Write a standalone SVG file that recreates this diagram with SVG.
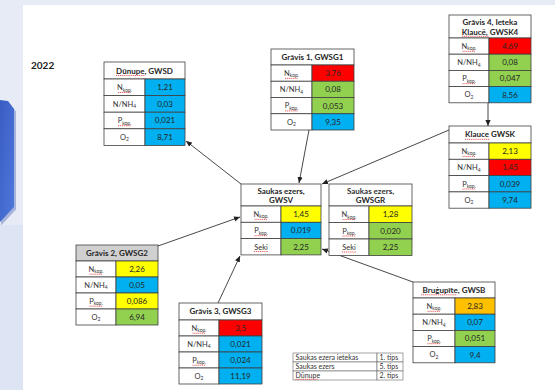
<svg xmlns="http://www.w3.org/2000/svg" width="555" height="390" viewBox="0 0 555 390">
<style>
.c{stroke:#404040;stroke-width:0.8}
.w{fill:#ffffff}.b{fill:#00b0f0}.y{fill:#ffff00}.r{fill:#ff0000}.g{fill:#92d050}.o{fill:#ffc000}.gr{fill:#d0d0d0}
text{font-family:Lato,"Liberation Sans",sans-serif;fill:#262626}
.ht{font-size:8px;font-weight:700;text-anchor:middle}
.lt{font-size:7.5px;text-anchor:middle;fill:#333}
.vt{font-size:8px;text-anchor:middle}
.sub{font-size:5px}
.sq{stroke:#e02020;stroke-width:0.7;stroke-dasharray:1.2 0.7;fill:none}
.lg{font-size:7px;fill:#333}
.conn path{stroke:#333;stroke-width:0.9;fill:none;marker-end:url(#ah)}
</style>
<defs>
<marker id="ah" viewBox="0 0 8 8" refX="8" refY="4" markerWidth="6" markerHeight="6" orient="auto" markerUnits="userSpaceOnUse"><path d="M0,0.5 L8,4 L0,7.5z" fill="#222"/></marker>
<linearGradient id="bg" x1="0" y1="0" x2="1" y2="1"><stop offset="0" stop-color="#3a5cc4"/><stop offset="1" stop-color="#4f78dc"/></linearGradient>
</defs>
<rect x="0" y="0" width="555" height="390" fill="#e6ebf5"/>
<rect x="0" y="225" width="23" height="165" fill="#dde4f3"/>
<polygon points="0,100 8,101 15,110 15,208 0,224" fill="#2f4ea8" opacity="0.35" transform="translate(1,1.5)"/>
<polygon points="0,100 8,101 14,109 14,207 0,222" fill="url(#bg)"/>
<rect x="23" y="5" width="532" height="385" fill="#ffffff"/>
<text x="31" y="69" style="font-size:10px;font-weight:700;fill:#222">2022</text>

<g class="conn">
<path d="M241,184 L186,141"/>
<path d="M309,130 L299,183"/>
<path d="M488,103 L488,126"/>
<path d="M449,130 L322,184"/>
<path d="M158,246 L240,217"/>
<path d="M218,303 L240,256"/>
<path d="M413,282 L322,249"/>
</g>

<g id="gwsd">
<rect class="c w" x="104" y="62" width="81" height="17"/>
<rect class="c w" x="104" y="79" width="41" height="16.6"/><rect class="c b" x="145" y="79" width="40" height="16.6"/>
<rect class="c w" x="104" y="95.6" width="41" height="16.6"/><rect class="c b" x="145" y="95.6" width="40" height="16.6"/>
<rect class="c w" x="104" y="112.2" width="41" height="16.6"/><rect class="c b" x="145" y="112.2" width="40" height="16.6"/>
<rect class="c w" x="104" y="128.8" width="41" height="16.6"/><rect class="c b" x="145" y="128.8" width="40" height="16.6"/>
<text class="ht" x="144.5" y="73.5">Dūnupe, GWSD</text>
<path class="sq" d="M116,75.5 H145"/>
<text class="lt" x="124.5" y="90">N<tspan class="sub" dy="1.5">kop.</tspan></text>
<path class="sq" d="M118,92.5 H131"/>
<text class="lt" x="124.5" y="106.6">N/NH<tspan class="sub" dy="1.5">4</tspan></text>
<text class="lt" x="124.5" y="123.2">P<tspan class="sub" dy="1.5">kop.</tspan></text>
<path class="sq" d="M118,125.7 H131"/>
<text class="lt" x="124.5" y="139.8">O<tspan class="sub" dy="1.5">2</tspan></text>
<text class="vt" x="165" y="90.1">1,21</text>
<text class="vt" x="165" y="106.7">0,03</text>
<text class="vt" x="165" y="123.3">0,021</text>
<text class="vt" x="165" y="139.9">8,71</text>
</g>

<g id="gwsg1">
<rect class="c w" x="271" y="49" width="83" height="16"/>
<rect class="c w" x="271" y="65" width="41" height="16.25"/><rect class="c r" x="312" y="65" width="42" height="16.25"/>
<rect class="c w" x="271" y="81.25" width="41" height="16.25"/><rect class="c g" x="312" y="81.25" width="42" height="16.25"/>
<rect class="c w" x="271" y="97.5" width="41" height="16.25"/><rect class="c g" x="312" y="97.5" width="42" height="16.25"/>
<rect class="c w" x="271" y="113.75" width="41" height="16.25"/><rect class="c b" x="312" y="113.75" width="42" height="16.25"/>
<text class="ht" x="312.5" y="59.8">Grāvis 1, GWSG1</text>
<text class="lt" x="291.5" y="75.9">N<tspan class="sub" dy="1.5">kop.</tspan></text>
<path class="sq" d="M285,78.4 H298"/>
<text class="lt" x="291.5" y="92.2">N/NH<tspan class="sub" dy="1.5">4</tspan></text>
<text class="lt" x="291.5" y="108.4">P<tspan class="sub" dy="1.5">kop.</tspan></text>
<path class="sq" d="M285,110.9 H298"/>
<text class="lt" x="291.5" y="124.7">O<tspan class="sub" dy="1.5">2</tspan></text>
<text class="vt" x="333" y="76">3,76</text>
<text class="vt" x="333" y="92.2">0,08</text>
<text class="vt" x="333" y="108.5">0,053</text>
<text class="vt" x="333" y="124.7">9,35</text>
</g>

<g id="gwsk4">
<rect class="c w" x="449" y="15" width="82" height="23"/>
<rect class="c w" x="449" y="38" width="40" height="16.2"/><rect class="c r" x="489" y="38" width="42" height="16.2"/>
<rect class="c w" x="449" y="54.2" width="40" height="16.2"/><rect class="c g" x="489" y="54.2" width="42" height="16.2"/>
<rect class="c w" x="449" y="70.4" width="40" height="16.2"/><rect class="c g" x="489" y="70.4" width="42" height="16.2"/>
<rect class="c w" x="449" y="86.6" width="40" height="16.2"/><rect class="c b" x="489" y="86.6" width="42" height="16.2"/>
<text class="ht" x="490" y="25">Grāvis 4, Ieteka</text>
<text class="ht" x="490" y="34.5">Klaucē, GWSK4</text>
<path class="sq" d="M462,36.3 H489"/>
<text class="lt" x="469" y="48.8">N<tspan class="sub" dy="1.5">kop.</tspan></text>
<path class="sq" d="M462.5,51.3 H475.5"/>
<text class="lt" x="469" y="65">N/NH<tspan class="sub" dy="1.5">4</tspan></text>
<text class="lt" x="469" y="81.2">P<tspan class="sub" dy="1.5">kop.</tspan></text>
<path class="sq" d="M462.5,83.7 H475.5"/>
<text class="lt" x="469" y="97.4">O<tspan class="sub" dy="1.5">2</tspan></text>
<text class="vt" x="510" y="48.9">4,69</text>
<text class="vt" x="510" y="65.1">0,08</text>
<text class="vt" x="510" y="81.3">0,047</text>
<text class="vt" x="510" y="97.5">8,56</text>
</g>

<g id="gwsk">
<rect class="c w" x="449" y="126" width="82" height="17"/>
<rect class="c w" x="449" y="143" width="40" height="16.3"/><rect class="c y" x="489" y="143" width="42" height="16.3"/>
<rect class="c w" x="449" y="159.3" width="40" height="16.3"/><rect class="c r" x="489" y="159.3" width="42" height="16.3"/>
<rect class="c w" x="449" y="175.6" width="40" height="16.3"/><rect class="c b" x="489" y="175.6" width="42" height="16.3"/>
<rect class="c w" x="449" y="191.9" width="40" height="16.3"/><rect class="c b" x="489" y="191.9" width="42" height="16.3"/>
<text class="ht" x="490" y="137.3">Klauce GWSK</text>
<path class="sq" d="M465,139.3 H490"/>
<text class="lt" x="469" y="153.9">N<tspan class="sub" dy="1.5">kop.</tspan></text>
<path class="sq" d="M462.5,156.4 H475.5"/>
<text class="lt" x="469" y="170.2">N/NH<tspan class="sub" dy="1.5">4</tspan></text>
<text class="lt" x="469" y="186.5">P<tspan class="sub" dy="1.5">kop.</tspan></text>
<path class="sq" d="M462.5,189 H475.5"/>
<text class="lt" x="469" y="202.8">O<tspan class="sub" dy="1.5">2</tspan></text>
<text class="vt" x="510" y="154">2,13</text>
<text class="vt" x="510" y="170.3">1,45</text>
<text class="vt" x="510" y="186.6">0,039</text>
<text class="vt" x="510" y="202.9">9,74</text>
</g>

<g id="gwsv">
<rect class="c w" x="241" y="184" width="80" height="22"/>
<rect class="c w" x="241" y="206" width="40" height="16.3"/><rect class="c y" x="281" y="206" width="40" height="16.3"/>
<rect class="c w" x="241" y="222.3" width="40" height="16.3"/><rect class="c b" x="281" y="222.3" width="40" height="16.3"/>
<rect class="c w" x="241" y="238.6" width="40" height="16.3"/><rect class="c g" x="281" y="238.6" width="40" height="16.3"/>
<text class="ht" x="281" y="193.5">Saukas ezers,</text>
<text class="ht" x="281" y="203">GWSV</text>
<text class="lt" x="261" y="216.9">N<tspan class="sub" dy="1.5">kop.</tspan></text>
<path class="sq" d="M254.5,219.4 H267.5"/>
<text class="lt" x="261" y="233.2">P<tspan class="sub" dy="1.5">kop.</tspan></text>
<path class="sq" d="M254.5,235.7 H267.5"/>
<text class="lt" x="261" y="249.5">Seki</text>
<path class="sq" d="M254,251.5 H268"/>
<text class="vt" x="301" y="217">1,45</text>
<text class="vt" x="301" y="233.3">0,019</text>
<text class="vt" x="301" y="249.6">2,25</text>
</g>

<g id="gwsgr">
<rect class="c w" x="329" y="184" width="83" height="22"/>
<rect class="c w" x="329" y="206" width="40" height="16.5"/><rect class="c y" x="369" y="206" width="43" height="16.5"/>
<rect class="c w" x="329" y="222.5" width="40" height="16.5"/><rect class="c g" x="369" y="222.5" width="43" height="16.5"/>
<rect class="c w" x="329" y="239" width="40" height="16.5"/><rect class="c g" x="369" y="239" width="43" height="16.5"/>
<text class="lt" x="370.5" y="193.5" style="font-weight:700;font-size:8px">Saukas ezers,</text>
<text class="ht" x="370.5" y="203">GWSGR</text>
<text class="lt" x="349" y="217">N<tspan class="sub" dy="1.5">kop.</tspan></text>
<path class="sq" d="M342.5,219.5 H355.5"/>
<text class="lt" x="349" y="233.5">P<tspan class="sub" dy="1.5">kop.</tspan></text>
<path class="sq" d="M342.5,236 H355.5"/>
<text class="lt" x="349" y="250">Seki</text>
<path class="sq" d="M342,252 H356"/>
<text class="vt" x="390.5" y="217.1">1,28</text>
<text class="vt" x="390.5" y="233.6">0,020</text>
<text class="vt" x="390.5" y="250.1">2,25</text>
</g>

<g id="gwsg2">
<rect class="c gr" x="76" y="245" width="82" height="16"/>
<rect class="c w" x="76" y="261" width="40" height="16"/><rect class="c y" x="116" y="261" width="42" height="16"/>
<rect class="c w" x="76" y="277" width="40" height="16"/><rect class="c b" x="116" y="277" width="42" height="16"/>
<rect class="c w" x="76" y="293" width="40" height="16"/><rect class="c y" x="116" y="293" width="42" height="16"/>
<rect class="c w" x="76" y="309" width="40" height="16"/><rect class="c g" x="116" y="309" width="42" height="16"/>
<text class="ht" x="117" y="255.8">Grāvis 2, GWSG2</text>
<text class="lt" x="96" y="271.7">N<tspan class="sub" dy="1.5">kop.</tspan></text>
<path class="sq" d="M89.5,274.2 H102.5"/>
<text class="lt" x="96" y="287.7">N/NH<tspan class="sub" dy="1.5">4</tspan></text>
<text class="lt" x="96" y="303.7">P<tspan class="sub" dy="1.5">kop.</tspan></text>
<path class="sq" d="M89.5,306.2 H102.5"/>
<text class="lt" x="96" y="319.7">O<tspan class="sub" dy="1.5">2</tspan></text>
<text class="vt" x="137" y="271.8">2,26</text>
<text class="vt" x="137" y="287.8">0,05</text>
<text class="vt" x="137" y="303.8">0,086</text>
<text class="vt" x="137" y="319.8">6,94</text>
</g>

<g id="gwsg3">
<rect class="c w" x="179" y="303" width="83" height="17"/>
<rect class="c w" x="179" y="320" width="40" height="16"/><rect class="c r" x="219" y="320" width="43" height="16"/>
<rect class="c w" x="179" y="336" width="40" height="16"/><rect class="c b" x="219" y="336" width="43" height="16"/>
<rect class="c w" x="179" y="352" width="40" height="16"/><rect class="c b" x="219" y="352" width="43" height="16"/>
<rect class="c w" x="179" y="368" width="40" height="16"/><rect class="c b" x="219" y="368" width="43" height="16"/>
<text class="ht" x="220.5" y="314.3">Grāvis 3, GWSG3</text>
<text class="lt" x="199" y="330.7">N<tspan class="sub" dy="1.5">kop.</tspan></text>
<path class="sq" d="M192.5,333.2 H205.5"/>
<text class="lt" x="199" y="346.7">N/NH<tspan class="sub" dy="1.5">4</tspan></text>
<text class="lt" x="199" y="362.7">P<tspan class="sub" dy="1.5">kop.</tspan></text>
<path class="sq" d="M192.5,365.2 H205.5"/>
<text class="lt" x="199" y="378.7">O<tspan class="sub" dy="1.5">2</tspan></text>
<text class="vt" x="240.5" y="330.8">3,5</text>
<text class="vt" x="240.5" y="346.8">0,021</text>
<text class="vt" x="240.5" y="362.8">0,024</text>
<text class="vt" x="240.5" y="378.8">11,19</text>
</g>

<g id="gwsb">
<rect class="c w" x="413" y="282" width="82" height="16"/>
<rect class="c w" x="413" y="298" width="42" height="16.2"/><rect class="c o" x="455" y="298" width="40" height="16.2"/>
<rect class="c w" x="413" y="314.2" width="42" height="16.2"/><rect class="c b" x="455" y="314.2" width="40" height="16.2"/>
<rect class="c w" x="413" y="330.4" width="42" height="16.2"/><rect class="c g" x="455" y="330.4" width="40" height="16.2"/>
<rect class="c w" x="413" y="346.6" width="42" height="16.2"/><rect class="c b" x="455" y="346.6" width="40" height="16.2"/>
<text class="ht" x="454" y="292.8">Bruģupīte, GWSB</text>
<path class="sq" d="M421,294.8 H457"/>
<text class="lt" x="434" y="308.8">N<tspan class="sub" dy="1.5">kop.</tspan></text>
<path class="sq" d="M427.5,311.3 H440.5"/>
<text class="lt" x="434" y="325">N/NH<tspan class="sub" dy="1.5">4</tspan></text>
<text class="lt" x="434" y="341.2">P<tspan class="sub" dy="1.5">kop.</tspan></text>
<path class="sq" d="M427.5,343.7 H440.5"/>
<text class="lt" x="434" y="357.4">O<tspan class="sub" dy="1.5">2</tspan></text>
<text class="vt" x="475" y="308.9">2,83</text>
<text class="vt" x="475" y="325.1">0,07</text>
<text class="vt" x="475" y="341.3">0,051</text>
<text class="vt" x="475" y="357.5">9,4</text>
</g>

<g id="legend">
<rect x="293" y="353" width="84" height="9" fill="#fff" stroke="#666" stroke-width="0.6"/><rect x="377" y="353" width="26" height="9" fill="#fff" stroke="#666" stroke-width="0.6"/>
<rect x="293" y="362" width="84" height="9" fill="#fff" stroke="#666" stroke-width="0.6"/><rect x="377" y="362" width="26" height="9" fill="#fff" stroke="#666" stroke-width="0.6"/>
<rect x="293" y="371" width="84" height="9" fill="#fff" stroke="#666" stroke-width="0.6"/><rect x="377" y="371" width="26" height="9" fill="#fff" stroke="#666" stroke-width="0.6"/>
<text class="lg" x="295.5" y="360">Saukas ezera ietekas</text><text class="lg" x="379.5" y="360">1. tips</text>
<text class="lg" x="295.5" y="369">Saukas ezers</text><text class="lg" x="379.5" y="369">5. tips</text>
<text class="lg" x="295.5" y="378">Dūnupe</text><text class="lg" x="379.5" y="378">2. tips</text>
<path class="sq" d="M295.5,379.3 H318"/>
</g>
</svg>
